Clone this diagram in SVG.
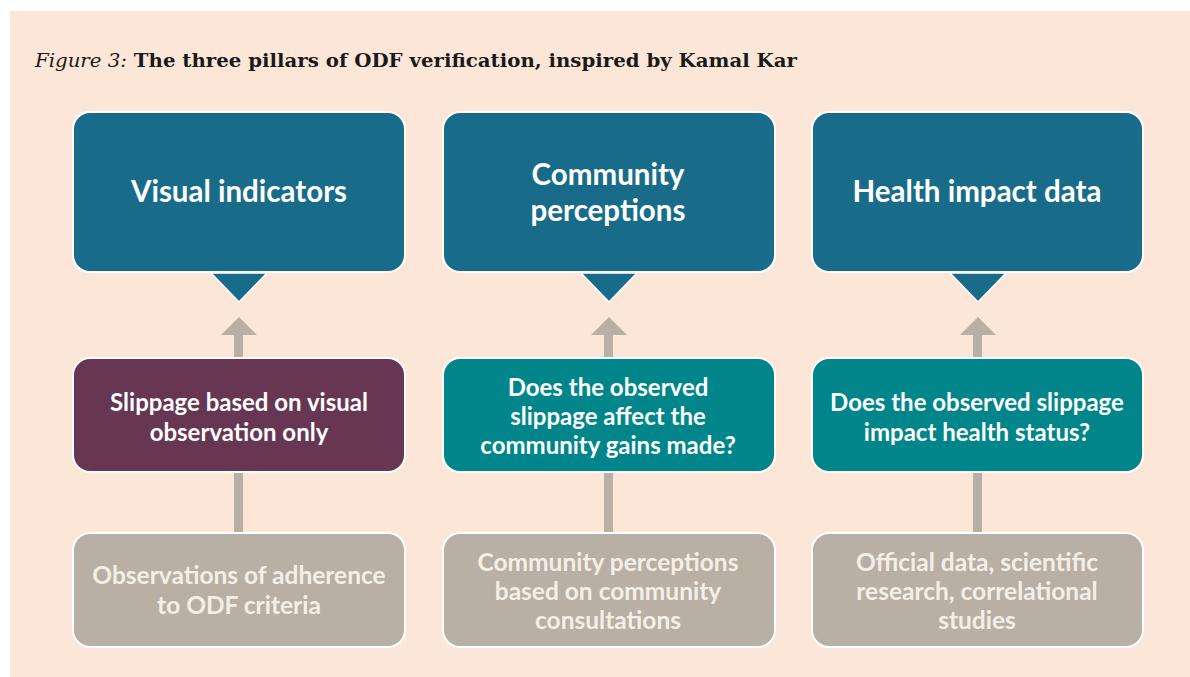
<svg xmlns="http://www.w3.org/2000/svg" width="1190" height="677" viewBox="0 0 1190 677">
  <style>
    .panel { fill: #fce6d8; }
    .box { stroke: #ffffff; stroke-width: 2; }
    .pillar { fill: #196c89; }
    .visual { fill: #663652; }
    .question { fill: #00868a; }
    .source { fill: #b8b0a5; }
    .pointer { fill: #196c89; stroke: #ffffff; stroke-width: 1.5; }
    .link { fill: #b8b0a5; }
    .t { font-family: Lato, "Open Sans", sans-serif; font-weight: bold; text-anchor: middle; }
    .t-head { font-size: 29.5px; fill: #ffffff; }
    .t-mid { font-size: 24px; fill: #ffffff; }
    .t-src { font-size: 24.5px; fill: #f4efe6; }
    .title { font-family: "DejaVu Serif", "Liberation Serif", serif; font-size: 19px; fill: #1a1a1a; }
  </style>

  <rect x="0" y="0" width="1190" height="677" fill="#ffffff"/>
  <rect class="panel" x="10" y="11" width="1180" height="666"/>

  <text class="title" x="35" y="67" textLength="762" lengthAdjust="spacingAndGlyphs"><tspan font-style="italic">Figure 3:</tspan><tspan font-weight="bold"> The three pillars of ODF verification, inspired by Kamal Kar</tspan></text>

  <!-- connectors: upward arrows and plain links between tiers -->
  <g id="connectors">
    <path class="link" d="M234,357 V335 H221 L239,317 L257,335 H243 V357 Z"/>
    <rect class="link" x="234" y="472" width="9" height="60"/>
    <path class="link" d="M604,357 V335 H591 L609,317 L627,335 H613 V357 Z"/>
    <rect class="link" x="604" y="472" width="9" height="60"/>
    <path class="link" d="M973,357 V335 H960 L978,317 L996,335 H982 V357 Z"/>
    <rect class="link" x="973" y="472" width="9" height="60"/>
  </g>

  <!-- column 1 -->
  <g id="visual-indicators">
    <rect class="box pillar" x="73" y="112" width="332" height="160" rx="17"/>
    <path class="pointer" d="M211,273 L267,273 L239,302 Z"/>
    <text class="t t-head" x="239" y="202">Visual indicators</text>
  </g>
  <g id="slippage-visual">
    <rect class="box visual" x="73" y="358" width="332" height="114" rx="17"/>
    <text class="t t-mid" x="239" y="411">Slippage based on visual</text>
    <text class="t t-mid" x="239" y="441">observation only</text>
  </g>
  <g id="odf-observations">
    <rect class="box source" x="73" y="533" width="332" height="114" rx="17"/>
    <text class="t t-src" x="239" y="584">Observations of adherence</text>
    <text class="t t-src" x="239" y="614">to ODF criteria</text>
  </g>

  <!-- column 2 -->
  <g id="community-perceptions">
    <rect class="box pillar" x="443" y="112" width="332" height="160" rx="17"/>
    <path class="pointer" d="M581,273 L637,273 L609,302 Z"/>
    <text class="t t-head" x="608" y="185">Community</text>
    <text class="t t-head" x="608" y="221">perceptions</text>
  </g>
  <g id="community-gains">
    <rect class="box question" x="443" y="358" width="332" height="114" rx="17"/>
    <text class="t t-mid" x="608" y="396">Does the observed</text>
    <text class="t t-mid" x="608" y="425">slippage affect the</text>
    <text class="t t-mid" x="608" y="454">community gains made?</text>
  </g>
  <g id="community-consultations">
    <rect class="box source" x="443" y="533" width="332" height="114" rx="17"/>
    <text class="t t-src" x="608" y="571">Community perceptions</text>
    <text class="t t-src" x="608" y="600">based on community</text>
    <text class="t t-src" x="608" y="629">consultations</text>
  </g>

  <!-- column 3 -->
  <g id="health-impact">
    <rect class="box pillar" x="812" y="112" width="331" height="160" rx="17"/>
    <path class="pointer" d="M950,273 L1006,273 L978,302 Z"/>
    <text class="t t-head" x="977" y="202">Health impact data</text>
  </g>
  <g id="health-status">
    <rect class="box question" x="812" y="358" width="331" height="114" rx="17"/>
    <text class="t t-mid" x="977" y="411">Does the observed slippage</text>
    <text class="t t-mid" x="977" y="441">impact health status?</text>
  </g>
  <g id="official-data">
    <rect class="box source" x="812" y="533" width="331" height="114" rx="17"/>
    <text class="t t-src" x="977" y="571">Official data, scientific</text>
    <text class="t t-src" x="977" y="600">research, correlational</text>
    <text class="t t-src" x="977" y="629">studies</text>
  </g>
</svg>
